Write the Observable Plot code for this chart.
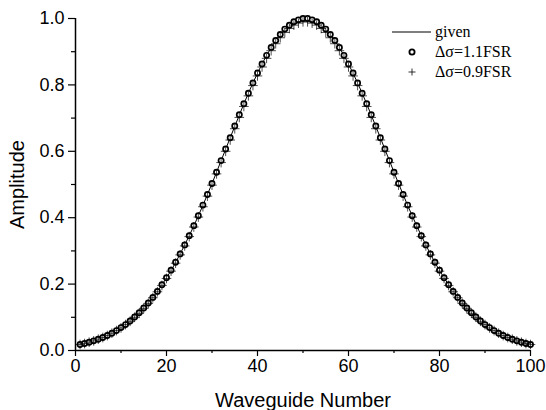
<!DOCTYPE html>
<html>
<head>
<meta charset="utf-8">
<script src="https://cdn.jsdelivr.net/npm/d3@7"></script>
<script src="https://cdn.jsdelivr.net/npm/@observablehq/plot@0.6"></script>
<style>
  body { margin: 0; background: #fff; }
  #wrap { position: relative; width: 546px; height: 410px; }
  #legend { position: absolute; left: 380px; top: 18px; font-family: "Liberation Serif", "Times New Roman", serif; font-size: 16px; }
  #wrap svg text { fill: #000; }
</style>
</head>
<body>
<div id="wrap"></div>
<script>
const waveguide = [1,2,3,4,5,6,7,8,9,10,11,12,13,14,15,16,17,18,19,20,
  21,22,23,24,25,26,27,28,29,30,31,32,33,34,35,36,37,38,39,40,
  41,42,43,44,45,46,47,48,49,50,51,52,53,54,55,56,57,58,59,60,
  61,62,63,64,65,66,67,68,69,70,71,72,73,74,75,76,77,78,79,80,
  81,82,83,84,85,86,87,88,89,90,91,92,93,94,95,96,97,98,99,100];

const given = [
  0.018,0.021,0.025,0.029,0.034,0.039,0.045,0.052,0.060,0.069,
  0.078,0.089,0.100,0.113,0.128,0.143,0.160,0.178,0.198,0.219,
  0.241,0.265,0.291,0.318,0.346,0.375,0.406,0.437,0.470,0.503,
  0.537,0.572,0.606,0.641,0.675,0.709,0.743,0.775,0.806,0.835,
  0.863,0.889,0.912,0.933,0.952,0.967,0.980,0.990,0.996,1.000,
  1.000,0.996,0.990,0.980,0.967,0.952,0.933,0.912,0.889,0.863,
  0.835,0.806,0.775,0.743,0.709,0.675,0.641,0.606,0.572,0.537,
  0.503,0.470,0.437,0.406,0.375,0.346,0.318,0.291,0.265,0.241,
  0.219,0.198,0.178,0.160,0.143,0.128,0.113,0.100,0.089,0.078,
  0.069,0.060,0.052,0.045,0.039,0.034,0.029,0.025,0.021,0.018];

const fsr11 = [
  0.018,0.021,0.025,0.029,0.034,0.039,0.045,0.052,0.060,0.069,
  0.078,0.089,0.101,0.114,0.128,0.143,0.160,0.178,0.198,0.219,
  0.242,0.266,0.291,0.318,0.346,0.376,0.406,0.438,0.470,0.503,
  0.537,0.572,0.607,0.641,0.676,0.710,0.743,0.775,0.806,0.836,
  0.863,0.889,0.913,0.934,0.952,0.968,0.980,0.990,0.996,1.000,
  1.000,0.996,0.990,0.980,0.968,0.952,0.934,0.913,0.889,0.863,
  0.836,0.806,0.775,0.743,0.710,0.676,0.641,0.607,0.572,0.537,
  0.503,0.470,0.438,0.406,0.376,0.346,0.318,0.291,0.266,0.242,
  0.219,0.198,0.178,0.160,0.143,0.128,0.114,0.101,0.089,0.078,
  0.069,0.060,0.052,0.045,0.039,0.034,0.029,0.025,0.021,0.018];

const fsr09 = [
  0.018,0.021,0.025,0.029,0.034,0.039,0.045,0.052,0.060,0.068,
  0.078,0.088,0.100,0.112,0.127,0.142,0.159,0.177,0.196,0.217,
  0.239,0.263,0.288,0.315,0.343,0.372,0.402,0.433,0.465,0.498,
  0.532,0.566,0.600,0.634,0.668,0.702,0.735,0.767,0.798,0.827,
  0.854,0.880,0.903,0.924,0.942,0.958,0.970,0.980,0.986,0.990,
  0.990,0.986,0.980,0.970,0.958,0.942,0.924,0.903,0.880,0.854,
  0.827,0.798,0.767,0.735,0.702,0.668,0.634,0.600,0.566,0.532,
  0.498,0.465,0.433,0.402,0.372,0.343,0.315,0.288,0.263,0.239,
  0.217,0.196,0.177,0.159,0.142,0.127,0.112,0.100,0.088,0.078,
  0.068,0.060,0.052,0.045,0.039,0.034,0.029,0.025,0.021,0.018];

const xMajor = [0, 20, 40, 60, 80, 100];
const xMinor = [10, 30, 50, 70, 90];
const yMajor = [0.0, 0.2, 0.4, 0.6, 0.8, 1.0];
const yMinor = [0.1, 0.3, 0.5, 0.7, 0.9];
const xTitle = "Waveguide Number";
const yTitle = "Amplitude";
const seriesNames = ["given", "\u0394\u03c3=1.1FSR", "\u0394\u03c3=0.9FSR"];

const rowsGiven = waveguide.map((w, i) => ({x: w, y: given[i]}));
const rows11 = waveguide.map((w, i) => ({x: w, y: fsr11[i]}));
const rows09 = waveguide.map((w, i) => ({x: w, y: fsr09[i]}));

const chart = Plot.plot({
  width: 546,
  height: 410,
  marginLeft: 75,
  marginRight: 16,
  marginTop: 18,
  marginBottom: 60,
  style: {fontFamily: "'Liberation Sans', Arial, sans-serif", fontSize: "18px", color: "#000", background: "#fff"},
  x: {domain: [0, 100]},
  y: {domain: [0, 1.0]},
  marks: [
    Plot.axisX({ticks: xMinor, tickSize: 3, text: null, label: null, strokeWidth: 1.2}),
    Plot.axisX({ticks: xMajor, tickSize: 6, tickPadding: 3, tickFormat: d => String(d), fontSize: 18, label: null, strokeWidth: 1.2}),
    Plot.axisX({ticks: [], label: xTitle, labelAnchor: "center", labelArrow: "none", labelOffset: 56, fontSize: 20}),
    Plot.axisY({ticks: yMinor, tickSize: 4, text: null, label: null, strokeWidth: 1.2}),
    Plot.axisY({ticks: yMajor, tickSize: 7, tickPadding: 4, tickFormat: d3.format(".1f"), fontSize: 18, label: null, strokeWidth: 1.2}),
    Plot.axisY({ticks: [], label: yTitle, labelAnchor: "center", labelArrow: "none", labelOffset: 66, fontSize: 20}),
    Plot.ruleY([0], {stroke: "#000", strokeWidth: 1.5}),
    Plot.ruleX([0], {stroke: "#000", strokeWidth: 1.5}),
    Plot.line(rowsGiven, {x: "x", y: "y", stroke: "#000", strokeWidth: 1}),
    Plot.dot(rows11, {x: "x", y: "y", r: 2.6, stroke: "#000", strokeWidth: 1.7, fill: "#fff"}),
    Plot.dot(rows09, {x: "x", y: "y", symbol: "plus", r: 3.2, stroke: "#000", strokeWidth: 0.7})
  ]
});

const wrap = document.getElementById("wrap");
wrap.appendChild(chart);

// legend
const lg = document.createElement("div");
lg.id = "legend";
lg.innerHTML = `
<svg width="160" height="70" style="overflow:visible">
  <line x1="12" y1="14" x2="51" y2="14" stroke="#000" stroke-width="1.2"/>
  <text x="55" y="19">${seriesNames[0]}</text>
  <circle cx="32" cy="34" r="2.6" fill="#fff" stroke="#000" stroke-width="1.8"/>
  <text x="55" y="39">${seriesNames[1]}</text>
  <path d="M28.5,54h7M32,50.5v7" stroke="#000" stroke-width="0.8" fill="none"/>
  <text x="55" y="59">${seriesNames[2]}</text>
</svg>`;
wrap.appendChild(lg);
</script>
</body>
</html>
